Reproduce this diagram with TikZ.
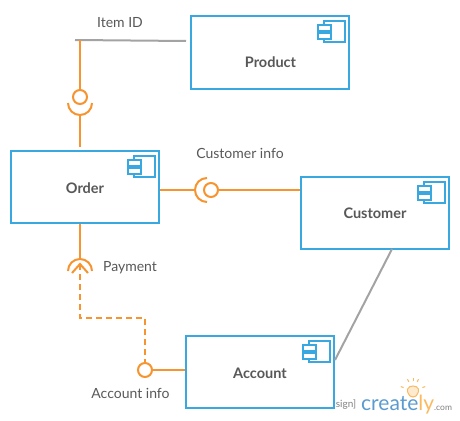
\documentclass[tikz,border=0pt]{standalone}
\usepackage{fontspec}
\setmainfont{Lato}
\usepackage{xcolor}
\definecolor{compblue}{HTML}{39A8E0}
\definecolor{ifaceorange}{HTML}{F7942F}
\definecolor{wiregray}{HTML}{A3A3A3}
\definecolor{labelgray}{HTML}{585858}
\definecolor{logoblue}{HTML}{5B9BD0}
\definecolor{logoorange}{HTML}{FBB95F}
\usetikzlibrary{calc,positioning,arrows.meta}
\tikzset{
    component/.style={
    rectangle,draw=compblue,line width=2pt,fill=white,minimum width=148pt,minimum height=72pt,inner sep=0pt
    },
    provide/.style={
    circle,draw=ifaceorange,line width=2pt,fill=white,minimum size=14pt,inner sep=0pt
    },
    lbl/.style={text=labelgray,inner sep=0pt,font=\fontsize{14}{16}\selectfont},
    title/.style={text=labelgray,inner sep=0pt,font=\fontsize{14.5}{16}\selectfont\bfseries},
    line/.style={draw=ifaceorange,line width=2pt},
    wire/.style={draw=wiregray,line width=2pt},
    socket/.style={draw=ifaceorange,line width=2pt},
    compicon/.pic={
      \draw[compblue,line width=1.6pt] (-16,-16) rectangle (5,5);
      \draw[compblue,line width=1.6pt,fill=white] (-22,-12) rectangle (-9,-6);
      \draw[compblue,line width=1.6pt,fill=white] (-22,-4) rectangle (-9,2);
    },
}
\begin{document}
\begin{tikzpicture}[x=1pt,y=-1pt]
\useasboundingbox (0,0) rectangle (460,420);

  \node[component,minimum width=158pt,minimum height=73pt] (product) at (270,52.5) {};
  \node[title] (productname) at (270.5,62) {Product};
  \pic at (340,37) {compicon};
  \node[component] (order) at (85,187) {};
  \node[title] (ordername) at (85,188) {Order};
  \pic at (150,172) {compicon};
  \node[component] (customer) at (375,213) {};
  \node[title] (customername) at (375,213) {Customer};
  \pic at (440,198) {compicon};
  \node[component] (account) at (260,372) {};
  \node[title] (accountname) at (260,373) {Account};
  \pic at (325,357) {compicon};

  \coordinate (itemfree) at (75,40);
  \coordinate (itemend) at (186,41);
  \path[wire] (itemfree) -- (itemend);
  \node[lbl] (itemid) at (120,23) {Item ID};

  % Product interface
  \node[provide] (ballitem) at (80,97) {};
  \coordinate (itemdrop) at (80,40);
  \coordinate (itemsocket) at (80,115);
  \coordinate (ordertop) at (80,147);
  \path[line] (itemdrop) -- (ballitem);
  \path[socket] (68,103) arc[start angle=180,end angle=360,radius=12pt];
  \path[line] (itemsocket) -- (ordertop);

  % Customer interface
  \node[provide] (ballcustomer) at (211,190) {};
  \coordinate (ordersocket) at (195,190);
  \path[line] (ballcustomer) -- (ballcustomer -| customer.west);
  \path[line] (ordersocket) -- (ordersocket -| order.east);
  \path[socket] (207,178) arc[start angle=90,end angle=270,radius=12pt];
  \node[lbl] (custinfo) at (240,153) {Customer info};

  % Payment
  \coordinate (paysocket) at (80,259);
  \coordinate (paytip) at (80,264);
  \coordinate (paybend) at (80,318);
  \coordinate (accbend) at (145,318);
  \node[provide] (ballaccount) at (145,370) {};
  \path[line] (order.south -| paysocket) -- (paysocket);
  \path[socket] (68,271) arc[start angle=180,end angle=0,radius=12pt];
  \path[line,dashed,dash pattern=on 6pt off 4pt] (paytip) -- (paybend) -- (accbend) -- (ballaccount);
  \draw[ifaceorange,line width=2pt] (72,273) -- (paytip) -- (88,273);
  \path[line] (ballaccount) -- (account.west |- ballaccount);
  \node[lbl] (payment) at (130,268) {Payment};
  \node[lbl] (accinfo) at (130.5,393) {Account info};

  \coordinate (custfoot) at (392,249);
  \coordinate (accshoulder) at (335,360);
  \path[wire] (custfoot) -- (accshoulder);

  % watermark
  \node[text=gray,inner sep=0pt,font=\fontsize{10}{11}\selectfont] (sign) at (346,405) {sign]};
  \node[inner sep=0pt,anchor=base west,font=\fontsize{21}{23}\selectfont,text=logoblue] (logo) at (361,410) {create\textcolor{logoorange}{ly}};
  \node[inner sep=0pt,anchor=base west,text=gray,font=\fontsize{8.5}{10}\selectfont] (dotcom) at (434,410) {.com};
  \draw[logoorange,line width=1pt,fill=logoorange!30] (413,397) -- (410,396) .. controls (405,390) and (408,386) .. (413,386) .. controls (418,386) and (421,390) .. (416,396) -- cycle;
  \foreach \a in {20,65,90,115,160}
    \draw[logoorange,line width=1pt] ($(413,391)+(\a:10pt)$) -- ($(413,391)+(\a:13pt)$);
\end{tikzpicture}
\end{document}
